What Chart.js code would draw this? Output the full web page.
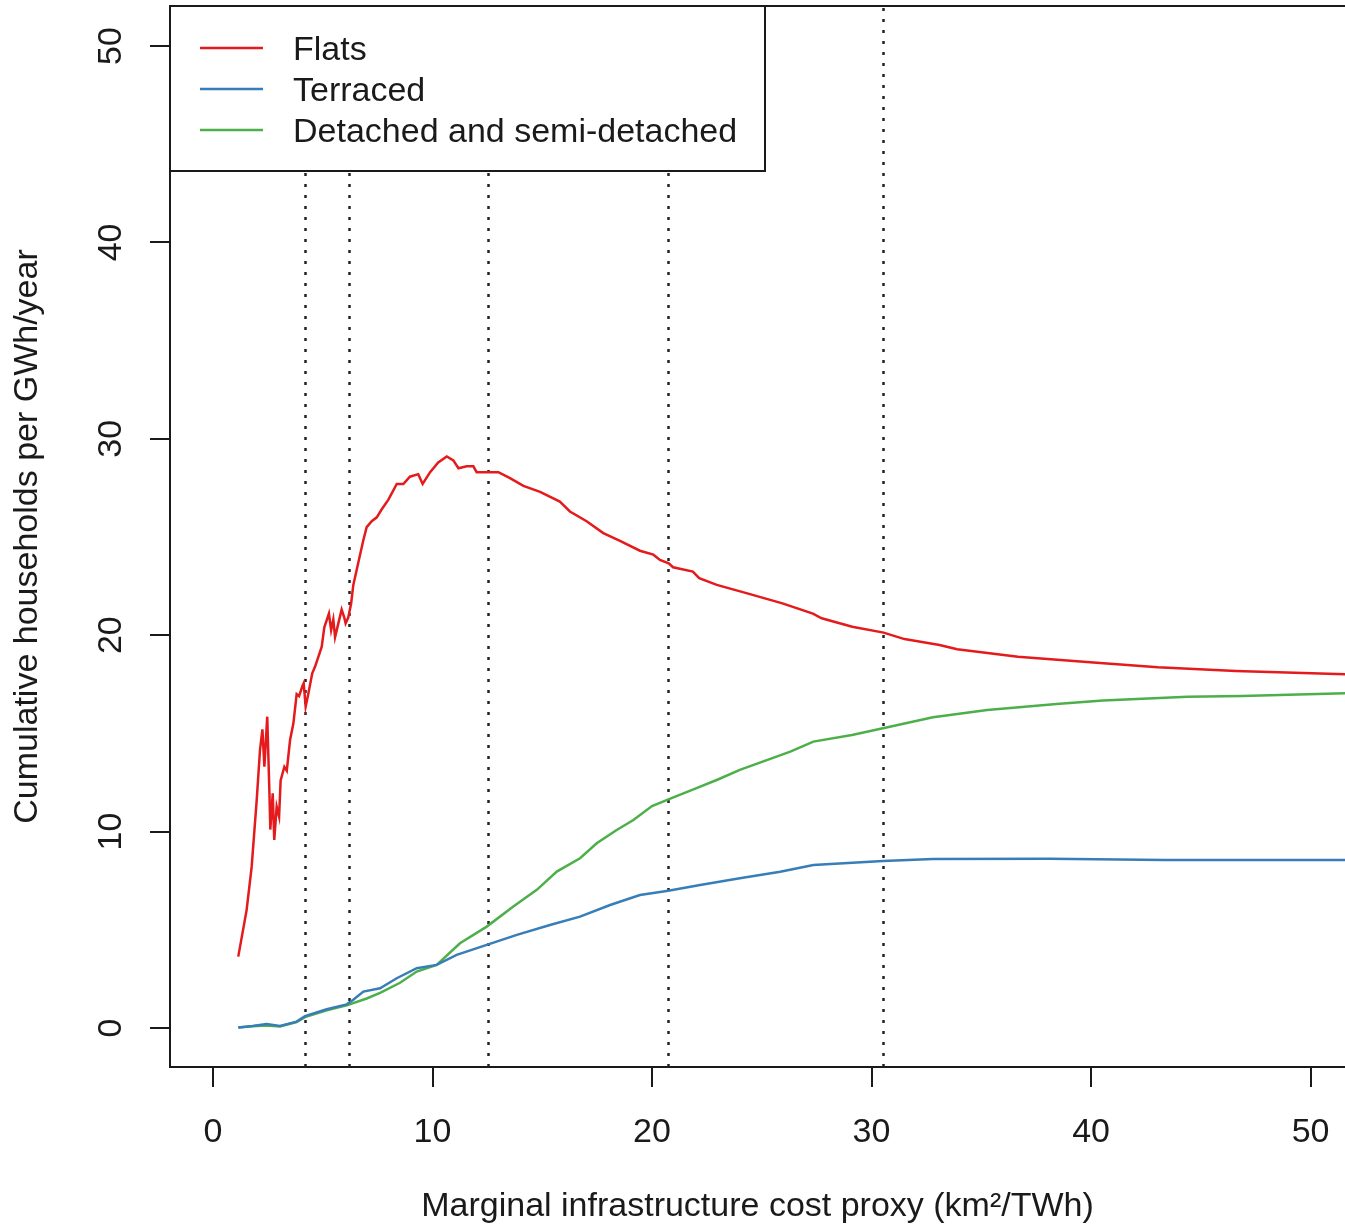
<!DOCTYPE html>
<html>
<head>
<meta charset="utf-8">
<title>Cumulative households per GWh/year</title>
<script src="https://cdn.jsdelivr.net/npm/chart.js@4.4.1/dist/chart.umd.min.js"></script>
<style>
  body { margin: 0; background: #fff; }
  #wrap { width: 1345px; height: 1229px; }
</style>
</head>
<body>
<div id="wrap"><canvas id="canvas" width="1345" height="1229"></canvas></div>
<script>
'use strict';

let xTicks = [0, 10, 20, 30, 40, 50];
let yTicks = [0, 10, 20, 30, 40, 50];

// dotted reference lines on the cost axis
let cutoffs = [4.2, 6.2, 12.53, 20.75, 30.52];

let flatsX = [1.15, 1.53, 1.76, 1.99, 2.14, 2.25, 2.34, 2.47, 2.57, 2.61, 2.72, 2.79, 2.90, 3.01, 3.08,
  3.25, 3.36, 3.51, 3.66, 3.81, 3.92, 4.07, 4.13, 4.22, 4.34, 4.52, 4.65, 4.95, 5.07, 5.28, 5.38,
  5.48, 5.56, 5.71, 5.86, 5.98, 6.04, 6.16, 6.29, 6.39, 6.62, 6.85, 7.0, 7.23, 7.46, 7.68, 7.99,
  8.37, 8.67, 8.97, 9.35, 9.55, 9.89, 10.26, 10.65, 10.95, 11.18, 11.56, 11.86, 12.01, 12.54, 13.0,
  13.53, 14.14, 14.9, 15.8, 16.26, 17.02, 17.78, 18.54, 19.45, 20.06, 20.36, 20.76, 20.96, 21.86,
  22.15, 22.95, 24.34, 25.94, 27.33, 27.73, 29.12, 30.55, 31.5, 33.1, 33.9, 36.67, 40.26, 43.04,
  46.6, 52.0];
let flatsY = [3.63, 6.0, 8.2, 11.6, 14.15, 15.2, 13.3, 15.85, 11.95, 10.1, 11.95, 9.57, 11.27, 10.76, 12.6,
  13.3, 13.1, 14.66, 15.5, 17.0, 16.9, 17.4, 17.55, 16.36, 17.0, 18.06, 18.4, 19.4, 20.4, 21.1, 20.26,
  20.8, 19.9, 20.6, 21.3, 20.9, 20.6, 20.9, 21.6, 22.55, 23.7, 24.85, 25.5, 25.8, 26.0, 26.4, 26.9,
  27.7, 27.7, 28.07, 28.2, 27.7, 28.3, 28.8, 29.1, 28.9, 28.5, 28.6, 28.6, 28.3, 28.3, 28.3,
  28.0, 27.6, 27.3, 26.8, 26.3, 25.8, 25.2, 24.8, 24.3, 24.1, 23.83, 23.66, 23.46, 23.24,
  22.9, 22.56, 22.13, 21.62, 21.1, 20.86, 20.43, 20.13, 19.8, 19.5, 19.28, 18.9, 18.6, 18.37,
  18.18, 18.0];

let terracedX = [1.15, 1.8, 2.44, 3.05, 3.81, 4.19, 5.18, 6.09, 6.39, 6.85, 7.61, 8.37, 9.28, 10.19, 11.1,
  12.47, 13.84, 15.35, 16.72, 18.09, 19.45, 20.74, 22.19, 24.0, 25.84, 27.35, 30.52, 32.8, 38.1,
  43.36, 52.0];
let terracedY = [0.02, 0.1, 0.2, 0.1, 0.32, 0.6, 0.95, 1.2, 1.43, 1.85, 2.02, 2.53, 3.04, 3.21, 3.72,
  4.23, 4.74, 5.24, 5.67, 6.26, 6.77, 6.99, 7.28, 7.62, 7.95, 8.3, 8.5, 8.6, 8.62,
  8.55, 8.55];

let detachedX = [1.15, 1.8, 2.44, 3.05, 3.81, 4.19, 5.18, 6.09, 7.0, 7.61, 8.52, 9.28, 10.19, 11.25, 12.47,
  13.68, 14.75, 15.66, 16.72, 17.48, 18.39, 19.15, 20.0, 21.0, 22.0, 23.0, 24.0, 26.3, 27.35, 29.11,
  30.52, 32.8, 35.27, 38.43, 40.54, 44.4, 46.87, 52.0];
let detachedY = [0.02, 0.08, 0.12, 0.07, 0.3, 0.55, 0.9, 1.15, 1.5, 1.78, 2.3, 2.87, 3.21, 4.31, 5.16,
  6.18, 7.03, 7.96, 8.64, 9.4, 10.08, 10.59, 11.3, 11.75, 12.2, 12.65, 13.14, 14.07, 14.58, 14.92,
  15.26, 15.82, 16.19, 16.5, 16.67, 16.87, 16.9, 17.05];

let fontFamily = '"Liberation Sans", Arial, Helvetica, sans-serif';
let ink = '#1a1a1a';

function toPoints(xs, ys) {
  return xs.map((x, i) => ({ x: x, y: ys[i] }));
}

function series(label, xs, ys, color) {
  return {
    label: label,
    data: toPoints(xs, ys),
    borderColor: color,
    backgroundColor: color,
    borderWidth: 2.5,
    pointRadius: 0,
    tension: 0
  };
}

// box, dotted cutoffs, rotated y labels and the legend, drawn R style
let framePlugin = {
  id: 'framePlugin',
  beforeDatasetsDraw(chart) {
    let ctx = chart.ctx;
    let area = chart.chartArea;
    let xScale = chart.scales.x;
    ctx.save();
    ctx.strokeStyle = '#222';
    ctx.lineWidth = 2.5;
    ctx.setLineDash([3, 8]);
    cutoffs.forEach(c => {
      let px = Math.round(xScale.getPixelForValue(c)) + 0.5;
      ctx.beginPath();
      ctx.moveTo(px, area.bottom);
      ctx.lineTo(px, area.top);
      ctx.stroke();
    });
    ctx.restore();
  },
  afterDraw(chart) {
    let ctx = chart.ctx;
    let area = chart.chartArea;
    let yScale = chart.scales.y;
    ctx.save();

    // top edge of the box
    ctx.strokeStyle = ink;
    ctx.lineWidth = 2;
    ctx.beginPath();
    ctx.moveTo(area.left, area.top);
    ctx.lineTo(area.right, area.top);
    ctx.stroke();

    ctx.font = '34px ' + fontFamily;
    ctx.fillStyle = ink;
    ctx.textAlign = 'center';
    ctx.textBaseline = 'alphabetic';
    yTicks.forEach(v => {
      ctx.save();
      ctx.translate(area.left - 49, yScale.getPixelForValue(v));
      ctx.rotate(-Math.PI / 2);
      ctx.fillText(String(v), 0, 0);
      ctx.restore();
    });

    // legend
    let lx = area.left;
    let ly = area.top;
    ctx.fillStyle = '#fff';
    ctx.fillRect(lx, ly, 595, 165);
    ctx.strokeStyle = ink;
    ctx.lineWidth = 2;
    ctx.strokeRect(lx, ly, 595, 165);
    ctx.textAlign = 'left';
    chart.data.datasets.forEach((ds, i) => {
      let base = ly + 54 + i * 41;
      ctx.strokeStyle = ds.borderColor;
      ctx.lineWidth = 2.5;
      ctx.beginPath();
      ctx.moveTo(lx + 30, base - 12);
      ctx.lineTo(lx + 93, base - 12);
      ctx.stroke();
      ctx.fillStyle = ink;
      ctx.fillText(ds.label, lx + 123, base);
    });
    ctx.restore();
  }
};

let canvas = document.getElementById('canvas');

new Chart(canvas, {
  type: 'line',
  data: {
    datasets: [
      series('Flats', flatsX, flatsY, '#E41A1C'),
      series('Terraced', terracedX, terracedY, '#377EB8'),
      series('Detached and semi-detached', detachedX, detachedY, '#4DAF4A')
    ]
  },
  options: {
    responsive: false,
    animation: false,
    layout: { padding: { top: 6, right: 0, bottom: 0, left: 0 } },
    plugins: {
      legend: { display: false },
      tooltip: { enabled: false }
    },
    scales: {
      x: {
        type: 'linear',
        min: -1.96,
        max: 51.57,
        afterBuildTicks: scale => { scale.ticks = xTicks.map(v => ({ value: v })); },
        afterFit: scale => {
          scale.height = 162;
          scale.paddingLeft = 0;
          scale.paddingRight = 0;
        },
        grid: { drawOnChartArea: false, tickLength: 20, color: ink, lineWidth: 2 },
        border: { color: ink, width: 2 },
        ticks: {
          autoSkip: false,
          maxRotation: 0,
          padding: 25,
          color: ink,
          font: { family: fontFamily, size: 34 }
        },
        title: {
          display: true,
          text: 'Marginal infrastructure cost proxy (km²/TWh)',
          color: ink,
          font: { family: fontFamily, size: 34 },
          padding: { top: 0, bottom: 2 }
        }
      },
      y: {
        type: 'linear',
        min: -1.99,
        max: 52.04,
        afterBuildTicks: scale => { scale.ticks = yTicks.map(v => ({ value: v })); },
        afterFit: scale => {
          scale.width = 170;
          scale.paddingTop = 0;
          scale.paddingBottom = 0;
        },
        grid: { drawOnChartArea: false, tickLength: 20, color: ink, lineWidth: 2 },
        border: { color: ink, width: 2 },
        ticks: { display: false },
        title: {
          display: true,
          text: 'Cumulative households per GWh/year',
          color: ink,
          font: { family: fontFamily, size: 34 },
          padding: { top: 7, bottom: 0 }
        }
      }
    }
  },
  plugins: [framePlugin]
});
</script>
</body>
</html>
